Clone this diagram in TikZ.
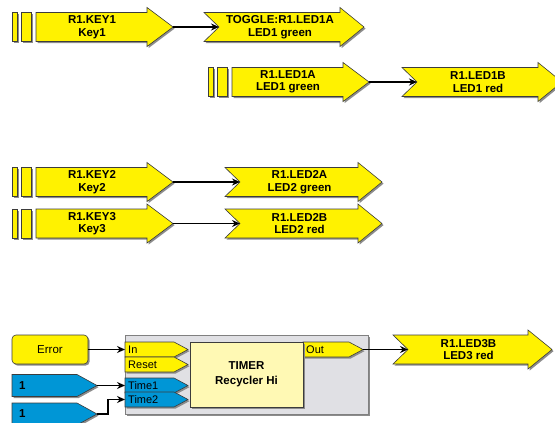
\documentclass[tikz,border=0pt]{standalone}
\usepackage{fontspec}
\setmainfont{Liberation Sans}
\usetikzlibrary{arrows.meta,shadows}

\definecolor{ledyellow}{RGB}{255,242,0}
\definecolor{pinblue}{RGB}{0,150,214}
\definecolor{boxgray}{RGB}{224,224,228}
\definecolor{lightyellow}{RGB}{255,249,180}
\definecolor{edgegray}{RGB}{60,60,60}

\tikzset{
  outline/.style={draw=edgegray, line width=0.6pt,
    drop shadow={shadow xshift=1.6pt, shadow yshift=-1.6pt, fill=black!45, opacity=1}},
  lbl/.style={font=\fontsize{11.5}{12.5}\selectfont\bfseries, align=center, inner sep=0pt},
  pinlbl/.style={font=\fontsize{11}{12}\selectfont, anchor=west, inner sep=0pt},
  wire/.style={line width=1.1pt, -{Stealth[length=8pt,width=7pt]}},
}

% key / source arrow: name, body start x, centre y, text
\newcommand{\srcarrow}[4]{%
  \draw[outline, fill=ledyellow] ({#2-24},{#3-14.5}) rectangle ({#2-19},{#3+14.5});
  \draw[outline, fill=ledyellow] ({#2-15},{#3-14.5}) rectangle ({#2-5},{#3+14.5});
  \draw[outline, fill=ledyellow] (#2,{#3-14.5}) -- ({#2+111},{#3-14.5}) -- ({#2+111},{#3-19.5})
    -- ({#2+137},#3) -- ({#2+111},{#3+19.5}) -- ({#2+111},{#3+14.5}) -- (#2,{#3+14.5}) -- cycle;
  \node[lbl] (#1) at ({#2+56},#3) {#4};
  \coordinate (#1-out) at ({#2+137},#3);
}
% led / target arrow: name, left x, head x, centre y, text
\newcommand{\dstarrow}[5]{%
  \draw[outline, fill=ledyellow] (#2,{#4-14.5}) -- (#3,{#4-14.5}) -- (#3,{#4-19.5})
    -- ({#3+24},#4) -- (#3,{#4+19.5}) -- (#3,{#4+14.5}) -- (#2,{#4+14.5}) -- ({#2+15},#4) -- cycle;
  \node[lbl] (#1) at ({(#2+#3)/2+8},#4) {#5};
  \coordinate (#1-in) at ({#2+15},#4);
}
% timer pin: name, left x, top y, tip x, colour, text
\newcommand{\timerpin}[6]{%
  \draw[outline, fill=#5] (#2,#3) -- ({#4-14},#3) -- (#4,{#3+7.5}) -- ({#4-14},{#3+15})
    -- (#2,{#3+15}) -- cycle;
  \node[pinlbl] (#1) at ({#2+3},{#3+7.5}) {#6};
  \coordinate (#1-in) at (#2,{#3+7.5});
  \coordinate (#1-out) at (#4,{#3+7.5});
}
% constant: name, top y, text
\newcommand{\constpin}[3]{%
  \draw[outline, fill=pinblue] (12,#2) -- (77,#2) -- (97,{#2+11}) -- (77,{#2+22})
    -- (12,{#2+22}) -- cycle;
  \node[lbl, anchor=west] (#1) at (19,{#2+11}) {#3};
  \coordinate (#1-out) at (97,{#2+11});
}

\begin{document}
\begin{tikzpicture}[x=1pt, y=-1pt]
  \useasboundingbox (0,0) rectangle (555,423);

  % LED1
  \srcarrow{key1}{36}{27}{R1.KEY1\\Key1}
  \dstarrow{toggle}{204}{340}{27}{TOGGLE:R1.LED1A\\LED1 green}
  \srcarrow{led1a}{232}{82}{R1.LED1A\\LED1 green}
  \dstarrow{led1b}{402}{538}{82}{R1.LED1B\\LED1 red}
  \draw[wire] (key1-out) -- (toggle-in);
  \draw[wire] (led1a-out) -- (led1b-in);

  % LED2
  \srcarrow{key2}{36}{182}{R1.KEY2\\Key2}
  \dstarrow{led2a}{225}{358}{182}{R1.LED2A\\LED2 green}
  \srcarrow{key3}{36}{223.5}{R1.KEY3\\Key3}
  \dstarrow{led2b}{225}{358}{223.5}{R1.LED2B\\LED2 red}
  \draw[wire] (key2-out) -- (led2a-in);
  \draw[wire] (key3-out) -- (led2b-in);

  % timer
  \node[outline, fill=ledyellow, rounded corners=4pt, minimum width=76pt, minimum height=29pt,
    font=\fontsize{11.5}{12.5}\selectfont] (error) at (50,349.5) {Error};
  \constpin{one1}{374.5}{1}
  \constpin{one2}{403}{1}
  \draw[outline, draw=gray, fill=boxgray] (125,335) rectangle (368,414);
  \timerpin{in}{125}{342}{188}{ledyellow}{In}
  \timerpin{reset}{125}{357}{188}{ledyellow}{Reset}
  \timerpin{time1}{125}{378}{188}{pinblue}{Time1}
  \timerpin{time2}{125}{392}{188}{pinblue}{Time2}
  \timerpin{out}{303}{342}{363}{ledyellow}{Out}
  \node[outline, fill=lightyellow, minimum width=113pt, minimum height=65pt, align=center,
    font=\fontsize{11.5}{15}\selectfont\bfseries] (timer) at (246.5,374.5) {TIMER\\Recycler Hi};
  \dstarrow{led3b}{393}{528}{349.5}{R1.LED3B\\LED3 red}
  \draw[wire] (error) -- (in-in);
  \draw[wire] (one1-out) -- (time1-in);
  \draw[wire] (one2-out) -- ++(11,0) |- (time2-in);
  \draw[wire] (out-out) -- (led3b-in);
\end{tikzpicture}
\end{document}
